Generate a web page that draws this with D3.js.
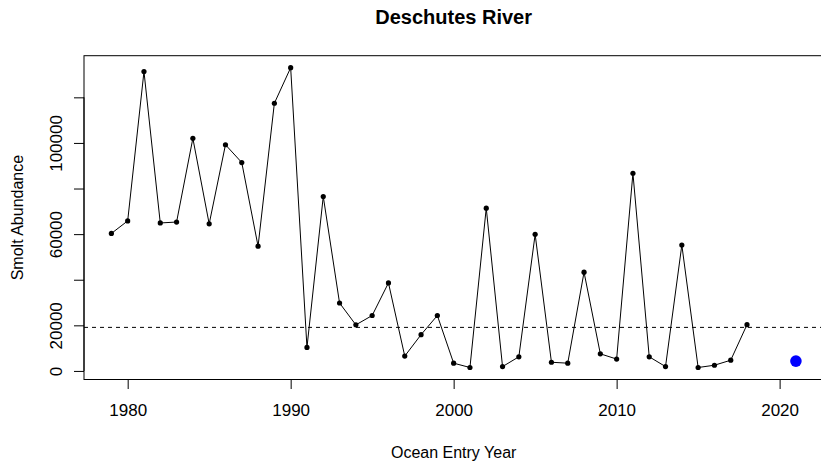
<!DOCTYPE html>
<html>
<head>
<meta charset="utf-8">
<script src="https://cdn.jsdelivr.net/npm/d3@7"></script>
<style>
  html, body { margin: 0; padding: 0; background: #fff; }
  svg { display: block; font-family: "Liberation Sans", Arial, sans-serif; }
</style>
</head>
<body>
<div id="chart"></div>
<script>
const years = [1979,1980,1981,1982,1983,1984,1985,1986,1987,1988,1989,1990,1991,1992,1993,1994,1995,1996,1997,1998,1999,2000,2001,2002,2003,2004,2005,2006,2007,2008,2009,2010,2011,2012,2013,2014,2015,2016,2017,2018];
const abundance = [60300,65800,131300,64900,65300,102000,64500,99200,91400,54700,117400,133000,10300,76500,29800,20200,24300,38600,6500,15900,24300,3400,1500,71400,1900,6200,59900,3800,3400,43300,7500,5200,86700,6200,1900,55200,1500,2500,4700,20300];
const forecastYear = [2021];
const forecastValue = [4300];
const meanLine = [19100];
const xTicks = [1980,1990,2000,2010,2020];
const yTicks = [0,20000,40000,60000,80000,100000,120000];
const yTickLabels = ["0","20000","","60000","","100000",""];
const title = "Deschutes River";
const xTitle = "Ocean Entry Year";
const yTitle = "Smolt Abundance";

const W = 821, H = 465;
const pLeft = 84, pRight = 823.3, pTop = 55.7, pBottom = 379.5;

const svg = d3.select("#chart").append("svg").attr("width", W).attr("height", H);

const allYears = years.concat(forecastYear);
const xr = d3.extent(allYears), xpad = (xr[1]-xr[0])*0.04;
const x = d3.scaleLinear().domain([xr[0]-xpad, xr[1]+xpad]).range([pLeft, pRight]);
const allVals = abundance.concat(forecastValue);
const yr = d3.extent(allVals), ypad = (yr[1]-yr[0])*0.04;
const y = d3.scaleLinear().domain([yr[0]-ypad, yr[1]+ypad]).range([pBottom, pTop]);

// box
svg.append("rect").attr("x", pLeft).attr("y", pTop).attr("width", pRight-pLeft).attr("height", pBottom-pTop)
  .attr("fill", "none").attr("stroke", "#000").attr("stroke-width", 1);

// x axis
const xAxis = d3.axisBottom(x).tickValues(xTicks).tickSize(9.5).tickSizeOuter(0).tickFormat(d3.format("d"));
const gx = svg.append("g").attr("transform", `translate(0,${pBottom})`).call(xAxis);
gx.select(".domain").attr("d", `M${x(xTicks[0])},0H${x(xTicks[xTicks.length-1])}`).attr("stroke", "#000");
gx.selectAll(".tick line").attr("stroke", "#000");
gx.selectAll(".tick text").attr("font-size", 17).attr("fill", "#000")
  .attr("font-family", "Liberation Sans, Arial, sans-serif")
  .attr("dy", null).attr("y", 36);

// y axis
const yAxis = d3.axisLeft(y).tickValues(yTicks).tickSize(10).tickSizeOuter(0).tickFormat((d,i) => yTickLabels[i]);
const gy = svg.append("g").attr("transform", `translate(${pLeft},0)`).call(yAxis);
gy.select(".domain").attr("d", `M0,${y(yTicks[0])}V${y(yTicks[yTicks.length-1])}`).attr("stroke", "#000");
gy.selectAll(".tick line").attr("stroke", "#000");
gy.selectAll(".tick text")
  .attr("font-size", 17).attr("fill", "#000").attr("font-family", "Liberation Sans, Arial, sans-serif")
  .attr("text-anchor", "middle").attr("dy", null).attr("x", null)
  .attr("transform", "translate(-22,0) rotate(-90)");

// mean dashed line
svg.append("line").attr("x1", pLeft).attr("x2", pRight).attr("y1", y(meanLine[0])).attr("y2", y(meanLine[0]))
  .attr("stroke", "#000").attr("stroke-width", 1).attr("stroke-dasharray", "4,4");

// series line
const line = d3.line().x((d,i) => x(years[i])).y(d => y(d));
svg.append("path").datum(abundance).attr("d", line).attr("fill", "none").attr("stroke", "#000").attr("stroke-width", 1);

svg.append("g").selectAll("circle").data(abundance).join("circle")
  .attr("cx", (d,i) => x(years[i])).attr("cy", d => y(d)).attr("r", 2.6).attr("fill", "#000");

// forecast point
svg.append("g").selectAll("circle").data(forecastValue).join("circle")
  .attr("cx", (d,i) => x(forecastYear[i])).attr("cy", d => y(d)).attr("r", 5.8).attr("fill", "#0000ff");

// titles
svg.append("text").attr("x", (pLeft+pRight)/2).attr("y", 24).attr("text-anchor", "middle")
  .attr("font-size", 20).attr("font-weight", "bold").attr("fill", "#000").text(title);
svg.append("text").attr("x", (pLeft+pRight)/2).attr("y", 458).attr("text-anchor", "middle")
  .attr("font-size", 16).attr("fill", "#000").text(xTitle);
svg.append("text").attr("transform", `translate(23,${(pTop+pBottom)/2}) rotate(-90)`).attr("text-anchor", "middle")
  .attr("font-size", 16).attr("fill", "#000").text(yTitle);
</script>
</body>
</html>
